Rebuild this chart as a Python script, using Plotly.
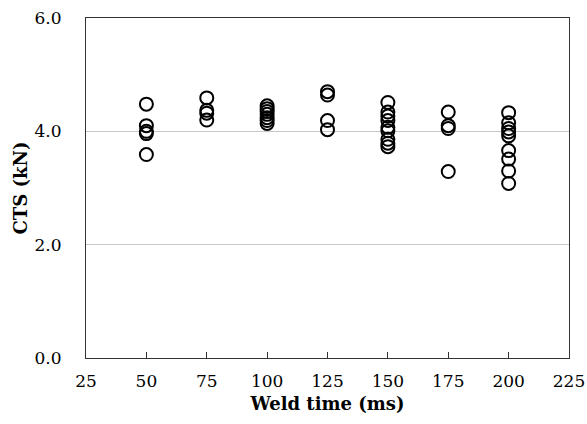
import plotly.graph_objects as go

weld_time = [50]*5 + [75]*4 + [100]*7 + [125]*4 + [150]*9 + [175]*4 + [200]*9
cts = [4.48, 4.10, 4.00, 3.96, 3.59,
       4.59, 4.37, 4.32, 4.20,
       4.45, 4.40, 4.35, 4.30, 4.24, 4.19, 4.14,
       4.70, 4.64, 4.19, 4.03,
       4.51, 4.34, 4.27, 4.19, 4.07, 4.01, 3.86, 3.79, 3.73,
       4.34, 4.10, 4.05, 3.29,
       4.33, 4.15, 4.05, 3.99, 3.92, 3.66, 3.51, 3.30, 3.08]
x_ticks = [25, 50, 75, 100, 125, 150, 175, 200, 225]
y_ticks = [0, 2, 4, 6]

font_family = "DejaVu Serif"

fig = go.Figure()
fig.add_trace(go.Scatter(
    x=weld_time, y=cts, mode="markers",
    marker=dict(symbol="circle-open", size=13, color="black", line=dict(width=2, color="black")),
    showlegend=False,
))

fig.update_layout(
    width=587, height=424,
    margin=dict(l=86, r=18, t=18, b=66),
    paper_bgcolor="white", plot_bgcolor="white",
    font=dict(family=font_family, color="black", size=17),
)
fig.update_xaxes(
    range=[25, 225], tickvals=x_ticks, ticktext=[str(v) for v in x_ticks],
    showline=True, linecolor="#333", linewidth=1, mirror=True,
    ticks="inside", ticklen=6, tickcolor="#333",
    showgrid=False, zeroline=False, automargin=False,
    title=dict(text="<b>Weld time (ms)</b>", font=dict(size=18), standoff=6),
    tickfont=dict(size=17), ticklabelstandoff=8,
)
fig.update_yaxes(
    range=[0, 6], tickvals=y_ticks, ticktext=[f"{v:.1f}" for v in y_ticks],
    showline=True, linecolor="#333", linewidth=1, mirror=True,
    ticks="", showgrid=True, gridcolor="#c8c8c8", gridwidth=1, zeroline=False,
    automargin=False,
    title=dict(text="<b>CTS (kN)</b>", font=dict(size=18), standoff=2),
    tickfont=dict(size=17), ticklabelstandoff=20,
)

fig.write_html("out.html")
